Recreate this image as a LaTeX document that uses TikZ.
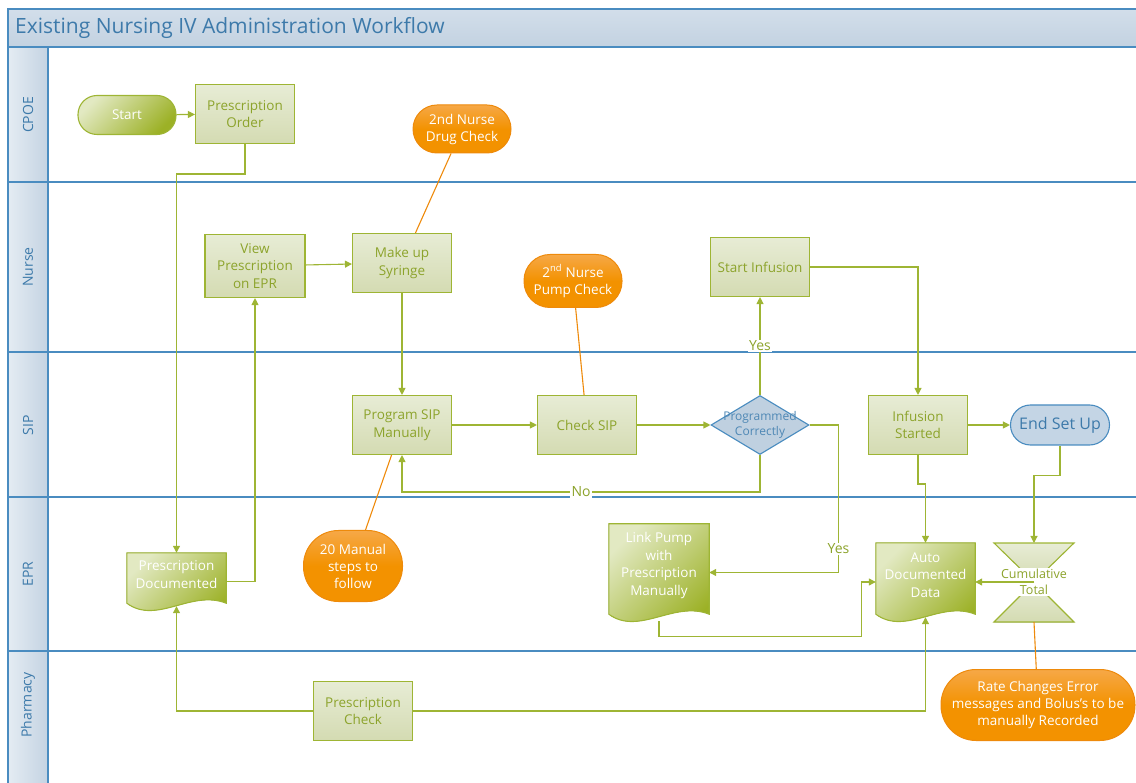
\documentclass[tikz,border=0pt]{standalone}
\usepackage{fontspec}
\setmainfont{Open Sans}
\usetikzlibrary{positioning, arrows.meta, shapes.geometric, calc, backgrounds}

\definecolor{laneblue}{HTML}{4A8CC0}
\definecolor{headtop}{HTML}{D2DEEA}
\definecolor{headbot}{HTML}{C3D2E1}
\definecolor{lanelight}{HTML}{E4ECF3}
\definecolor{lanefill}{HTML}{C4D3E2}
\definecolor{headtext}{HTML}{3D7AAA}
\definecolor{olive}{HTML}{9EB534}
\definecolor{boxtop}{HTML}{E7ECD5}
\definecolor{boxbot}{HTML}{D4DBB2}
\definecolor{boxtext}{HTML}{8CA32B}
\definecolor{doclight}{HTML}{E2E9C2}
\definecolor{docdark}{HTML}{9CB126}
\definecolor{notefill}{HTML}{F39200}
\definecolor{notetop}{HTML}{F6A847}
\definecolor{noteline}{HTML}{EE8A0B}
\definecolor{diamfill}{HTML}{BFD0E0}
\definecolor{diamtext}{HTML}{4F88B5}
\definecolor{endfill}{HTML}{C4D5E5}

\newcommand{\headsize}{\fontsize{21}{25}\selectfont}
\newcommand{\lanesize}{\fontsize{14}{17}\selectfont}
\newcommand{\boxsize}{\fontsize{13.5}{17.5}\selectfont}
\newcommand{\notesize}{\fontsize{13.5}{17}\selectfont}
\newcommand{\diasize}{\fontsize{12}{15}\selectfont}
\newcommand{\cumsize}{\fontsize{12.5}{16}\selectfont}

\tikzset{
  laneline/.style={draw=laneblue, line width=2pt},
  lanelabel/.style={rotate=90, text=headtext, font=\lanesize},
  box/.style={rectangle, draw=olive, line width=1.1pt, top color=boxtop, bottom color=boxbot,
    text=boxtext, font=\boxsize, align=center, minimum width=99pt, minimum height=59pt, inner sep=2pt},
  term/.style={rectangle, rounded corners=19pt, draw=olive, line width=1.1pt,
    left color=doclight, right color=docdark, shading angle=45,
    text=white, font=\boxsize, minimum width=98pt, minimum height=39pt},
  endterm/.style={rectangle, rounded corners=20pt, draw=laneblue, line width=1.1pt, fill=endfill,
    text=headtext, font=\fontsize{16}{19}\selectfont, minimum width=99pt, minimum height=40pt},
  note/.style={rectangle, draw=noteline, line width=1pt, top color=notetop, bottom color=notefill,
    middle color=notefill, text=white, font=\notesize, align=center, minimum width=98pt, inner sep=1pt},
  decision/.style={diamond, draw=laneblue, line width=1.1pt, fill=diamfill, aspect=1.66,
    minimum width=98pt, minimum height=59pt, inner sep=0pt},
  dtext/.style={text=diamtext, font=\diasize, align=center, inner sep=0pt},
  doc/.style={rectangle, minimum width=99pt, inner sep=0pt},
  doctext/.style={text=white, font=\boxsize, align=center, yshift=7pt},
  docshape/.style={draw=olive, line width=1.1pt, left color=doclight, right color=docdark, shading angle=45},
  hourglass/.style={draw=olive, line width=1.1pt, top color=boxtop, bottom color=boxbot},
  cumtext/.style={fill=white, text=boxtext, font=\cumsize, align=center, inner sep=1pt},
  flow/.style={draw=olive, line width=1.1pt, ->},
  link/.style={draw=noteline, line width=1.1pt},
  lbl/.style={fill=white, text=boxtext, font=\fontsize{14}{17}\selectfont, inner sep=1pt}
}

\begin{document}
\begin{tikzpicture}[x=1pt, y=-1pt, >={Triangle[length=7pt,width=7pt]}, on grid]
  \useasboundingbox (0,0) rectangle (1136,783);
  \clip (0,0) rectangle (1136,783);

  % pool and lanes
  \fill[top color=headtop, bottom color=headbot] (8,9) rectangle (1145,47);
  \fill[left color=lanelight, right color=lanefill] (8,47) rectangle (48,790);
  \draw[laneline] (8,790) -- (8,9) -- (1145,9);
  \draw[laneline] (8,47) -- (1145,47);
  \draw[laneline] (48,47) -- (48,790);
  \foreach \y in {182,352,497,651}
    \draw[laneline] (8,\y) -- (1145,\y);
  \node[anchor=west, inner sep=0pt, text=headtext, font=\headsize] (title) at (15,28)
    {Existing Nursing IV Administration Workflow};
  \foreach \lane/\y in {CPOE/115,Nurse/267,SIP/425,EPR/574,Pharmacy/705}
    \node[lanelabel] (lane\lane) at (28,\y) {\lane};

  % steps
  \node[term] (start) at (127,115) {Start};
  \node[box] (order) at (245,114) {Prescription\\Order};
  \node[note, minimum height=48pt, rounded corners=24pt] (drugchk) at (462,129) {2nd Nurse\\Drug Check};
  \node[box, minimum width=100pt, minimum height=63pt] (viewpres) at (255,266) {View\\Prescription\\on EPR};
  \node[box] (progsip) at (402,425) {Program SIP\\Manually};
  \node[box, above=162pt of progsip] (makeup) {Make up\\Syringe};
  \node[box, right=185pt of progsip] (checksip) {Check SIP};
  \node[decision, right=173pt of checksip, label={[dtext]center:{Programmed\\Correctly}}] (prog) {};
  \node[box, above=158pt of prog] (startinf) {Start Infusion};
  \node[box, right=158pt of prog] (infstart) {Infusion\\Started};
  \node[endterm, right=142pt of infstart] (endset) {End Set Up};
  \node[note, minimum height=53pt, rounded corners=26pt] (pumpchk) at (573,281) {2\textsuperscript{nd} Nurse\\Pump Check};

  \node[doc, minimum height=57pt, label={[doctext]center:{Prescription\\Documented}}] (presdoc) at (176.5,581.5) {};
  \node[note, minimum width=99pt, minimum height=71pt, rounded corners=35pt] (manual) at (353,566) {20 Manual\\steps to\\follow};
  \node[doc, minimum width=100pt, minimum height=97pt, label={[doctext]center:{Link Pump\\with\\Prescription\\Manually}}] (linkdoc) at (659,572.5) {};
  \node[doc, minimum height=78pt, label={[doctext]center:{Auto\\Documented\\Data}}] (autodoc) at (925.5,582) {};
  \node[cumtext] (cum) at (1034,582) {Cumulative\\Total};
  \coordinate (cumtop) at ([yshift=39pt]cum.center);
  \coordinate (cumbot) at ([yshift=-40pt]cum.center);
  \node[note, minimum width=194pt, minimum height=71pt, rounded corners=35pt] (rate) at (1038,705)
    {Rate Changes Error\\messages and Bolus’s to be\\manually Recorded};
  \node[box] (prescheck) at (363,711) {Prescription\\Check};

  % document and collate shapes
  \begin{pgfonlayer}{background}
    \foreach \d in {presdoc,linkdoc,autodoc}
      \filldraw[docshape] (\d.north west) -- (\d.north east) -- ([yshift=7pt]\d.south east)
        .. controls +(-35,-14) and +(30,22) .. ([yshift=7pt]\d.south west) -- cycle;
    \filldraw[hourglass] ([shift={(-40pt,39pt)}]cum.center) -- ([shift={(40pt,39pt)}]cum.center) -- (cum.center) -- cycle;
    \filldraw[hourglass] ([shift={(-40pt,-40pt)}]cum.center) -- ([shift={(40pt,-40pt)}]cum.center) -- (cum.center) -- cycle;
  \end{pgfonlayer}

  % flow
  \draw[flow] (start) -- (order);
  \draw[flow] (order.south) -- ++(0,30) -| (presdoc.north);
  \draw[flow] (presdoc.east) -| (viewpres.south);
  \draw[flow] (viewpres) -- (makeup);
  \draw[flow] (makeup) -- (progsip);
  \draw[flow] (progsip) -- (checksip);
  \draw[flow] (checksip) -- (prog);
  \draw[flow] (prog) -- node[lbl] {Yes} (startinf);
  \draw[flow] (prog.south) -- ++(0,37) -| node[lbl, pos=0.25] {No} (progsip.south);
  \draw[flow] (prog.east) -- ++(29,0) |- node[lbl, pos=0.42] {Yes} (linkdoc.east);
  \draw[flow] (startinf) -| (infstart);
  \draw[flow] (infstart) -- (endset);
  \draw[flow] (infstart.south) -- ++(0,29) -| (autodoc.north);
  \draw[flow] (endset.south) -- ++(0,30) -| (cumtop);
  \draw[flow] (cum.center) -- (autodoc.east);
  \draw[flow] (linkdoc.south) -- ++(0,15) -| ([xshift=-14pt]autodoc.west) -- (autodoc.west);
  \draw[flow] (prescheck) -| ([yshift=4pt]presdoc.south);
  \draw[flow] (prescheck) -| ([yshift=4pt]autodoc.south);

  % checks
  \draw[link] (drugchk) -- (makeup);
  \draw[link] (pumpchk) -- (checksip);
  \draw[link] (progsip) -- (manual);
  \draw[link] (cumbot) -- (rate);
\end{tikzpicture}
\end{document}
